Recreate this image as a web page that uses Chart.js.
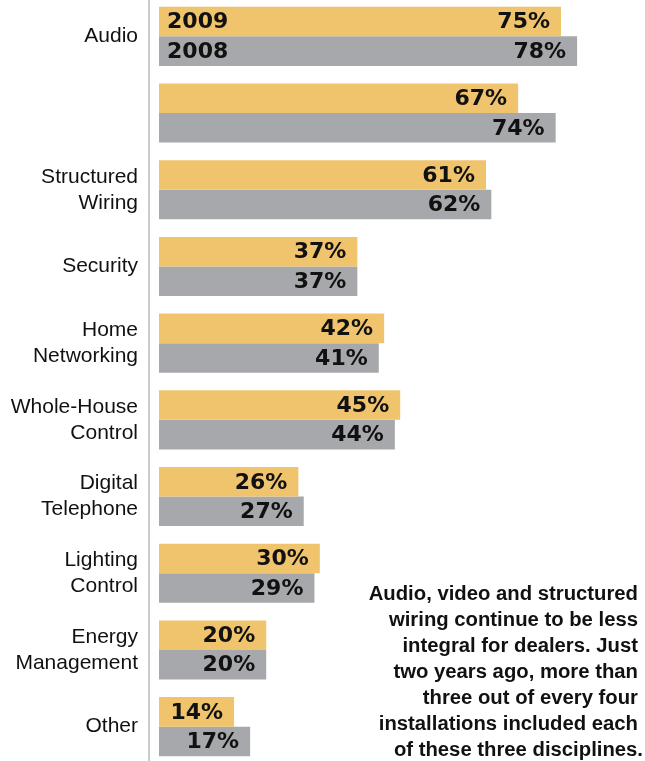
<!DOCTYPE html>
<html>
<head>
<meta charset="utf-8">
<script src="https://cdn.jsdelivr.net/npm/chart.js@4/dist/chart.umd.min.js"></script>
<style>
  html, body { margin: 0; padding: 0; background: #fff; overflow: hidden; }
  body { width: 645px; height: 761px; position: relative; }
  #wrap { position: absolute; left: 0; top: -2px; width: 645px; height: 767px; }
  #note {
    position: absolute; right: 7px; top: 580px;
    font: bold 20.3px/26px "Liberation Sans", Arial, sans-serif;
    color: #111; text-align: right; white-space: nowrap;
  }
  #note span:last-child { margin-right: -5px; }
</style>
</head>
<body>
<div id="wrap"><canvas id="chart"></canvas></div>
<div id="note"></div>
<script>
const categories = [
  'Audio', '', ['Structured', 'Wiring'], 'Security', ['Home', 'Networking'],
  ['Whole-House', 'Control'], ['Digital', 'Telephone'], ['Lighting', 'Control'],
  ['Energy', 'Management'], 'Other'
];
const years = ['2009', '2008'];
const values2009 = [75, 67, 61, 37, 42, 45, 26, 30, 20, 14];
const values2008 = [78, 74, 62, 37, 41, 44, 27, 29, 20, 17];
const noteLines = [
  'Audio, video and structured',
  'wiring continue to be less',
  'integral for dealers. Just',
  'two years ago, more than',
  'three out of every four',
  'installations included each',
  'of these three disciplines.'
];

document.getElementById('note').innerHTML =
  noteLines.map(l => '<span>' + l + '</span>').join('<br>');

const valueFont = 'bold 22px "DejaVu Sans", sans-serif';

// percent at the end of each bar, year names inside the first pair
const barLabels = {
  id: 'barLabels',
  afterDatasetsDraw(chart) {
    const ctx = chart.ctx;
    ctx.save();
    ctx.font = valueFont;
    ctx.fillStyle = '#111';
    ctx.textBaseline = 'middle';
    chart.data.datasets.forEach((ds, di) => {
      const meta = chart.getDatasetMeta(di);
      meta.data.forEach((bar, i) => {
        ctx.textAlign = 'right';
        ctx.fillText(ds.data[i] + '%', bar.x - 11, bar.y + 1);
        if (i === 0) {
          ctx.textAlign = 'left';
          ctx.fillText(ds.label, bar.base + 8, bar.y + 1);
        }
      });
    });
    ctx.restore();
  }
};

new Chart(document.getElementById('chart'), {
  type: 'bar',
  data: {
    labels: categories,
    datasets: [
      { label: years[0], data: values2009, backgroundColor: '#F0C36D' },
      { label: years[1], data: values2008, backgroundColor: '#A7A8AB' }
    ]
  },
  options: {
    indexAxis: 'y',
    responsive: true,
    maintainAspectRatio: false,
    animation: false,
    layout: { padding: 0 },
    datasets: {
      bar: { categoryPercentage: 0.77, barPercentage: 1.0 }
    },
    plugins: {
      legend: { display: false },
      tooltip: { enabled: false }
    },
    scales: {
      x: {
        display: false,
        min: -1.87,
        max: 90.67
      },
      y: {
        grid: { display: false, drawTicks: false },
        border: { display: true, color: '#cccccc', width: 2 },
        afterFit: (scale) => {
          scale.width = 149;
          scale.paddingTop = 0;
          scale.paddingBottom = 0;
        },
        ticks: {
          padding: 11,
          color: '#111',
          font: { family: '"Liberation Sans", Arial, sans-serif', size: 21, lineHeight: 1.24 }
        }
      }
    }
  },
  plugins: [barLabels]
});
</script>
</body>
</html>
